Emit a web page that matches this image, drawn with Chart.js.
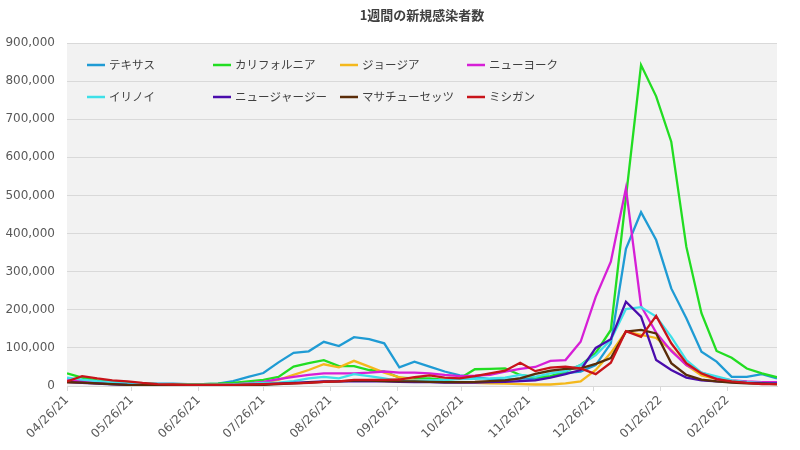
<!DOCTYPE html>
<html>
<head>
<meta charset="utf-8">
<script src="https://cdn.jsdelivr.net/npm/chart.js@4"></script>
<style>
  html, body { margin: 0; padding: 0; background: #ffffff; }
  #wrap { width: 800px; height: 450px; }
</style>
</head>
<body>
<div id="wrap"><canvas id="c" width="800" height="450"></canvas></div>
<script>
// ---- data ----
const chartTitle = '1週間の新規感染者数';
const weeks = ['04/26/21','05/03/21','05/10/21','05/17/21','05/24/21','05/31/21','06/07/21','06/14/21','06/21/21','06/28/21',
  '07/05/21','07/12/21','07/19/21','07/26/21','08/02/21','08/09/21','08/16/21','08/23/21','08/30/21','09/06/21',
  '09/13/21','09/20/21','09/27/21','10/04/21','10/11/21','10/18/21','10/25/21','11/01/21','11/08/21','11/15/21',
  '11/22/21','11/29/21','12/06/21','12/13/21','12/20/21','12/27/21','01/03/22','01/10/22','01/17/22','01/24/22',
  '01/31/22','02/07/22','02/14/22','02/21/22','02/28/22','03/07/22','03/14/22','03/21/22'];
const xTickLabels = ['04/26/21','05/26/21','06/26/21','07/26/21','08/26/21','09/26/21','10/26/21','11/26/21','12/26/21','01/26/22','02/26/22'];
const yTicks = [0,100000,200000,300000,400000,500000,600000,700000,800000,900000];
const seriesNames = ['テキサス','カリフォルニア','ジョージア','ニューヨーク','イリノイ','ニュージャージー','マサチューセッツ','ミシガン'];
const texas = [20,15,12,10,9,7,6,6,5,5, 6,13,24,34,62,87,91,116,105,128, 123,112,49,64,51,38,28,24,18,16, 20,18,23,34,38,55,112,360,456,383, 256,178,90,64,24,24,31,20];
const california = [33,22,15,10,8,6,5,5,5,5, 6,8,12,16,24,51,60,68,52,52, 42,38,22,20,20,16,20,44,45,46, 29,23,26,38,55,87,147,495,842,760, 641,365,191,92,74,46,33,23];
const georgia = [10,9,7,5,4,3,3,3,3,3, 3,4,6,10,16,29,42,57,49,66, 51,35,23,16,12,10,9,8,7,6, 5,4,4,7,12,42,87,143,134,126, 95,55,28,18,12,8,6,5];
const newYork = [15,12,9,6,4,3,3,3,3,3, 3,4,7,11,18,24,29,33,33,33, 35,38,35,35,33,29,26,27,29,38, 45,50,66,68,116,234,326,519,210,140, 92,55,35,22,15,12,10,10];
const illinois = [22,17,13,10,7,5,4,3,3,3, 3,4,6,8,9,13,20,24,20,31, 26,20,13,14,15,16,18,19,20,22, 29,24,33,39,55,81,121,202,207,182, 129,68,35,25,15,10,8,7];
const newJersey = [10,8,6,4,3,2,2,2,2,2, 2,2,3,4,6,8,10,12,12,13, 12,12,11,10,10,9,9,9,10,11, 13,15,22,31,42,100,123,221,182,68, 42,22,15,12,10,8,7,7];
const massachusetts = [10,9,7,5,3,2,2,1,1,1, 1,2,2,3,5,7,9,11,12,14, 14,13,12,12,11,10,10,11,13,15, 20,32,40,45,46,58,73,143,147,138, 60,29,17,12,9,7,6,5];
const michigan = [12,26,20,15,12,8,5,4,3,3, 3,3,4,5,6,7,8,11,12,16, 16,16,17,23,28,22,20,26,33,40, 61,39,48,51,46,31,61,144,129,184, 112,60,33,18,12,8,5,5];
const valueUnit = 1000; // values above are in thousands
const seriesColors = ['#1f9bd4','#22dd22','#f4b81c','#d61fd6','#3ee0e8','#4a0cac','#5a2c08','#c8141a'];

// ---- helpers ----
function dayOffset(s) {
  const [m, d, y] = s.split('/').map(Number);
  const base = Date.UTC(2021, 3, 26);
  return Math.round((Date.UTC(2000 + y, m - 1, d) - base) / 86400000);
}
const weekDays = weeks.map(dayOffset);
const xTickDays = xTickLabels.map(dayOffset);
const allSeries = [texas, california, georgia, newYork, illinois, newJersey, massachusetts, michigan];

const datasets = allSeries.map((vals, i) => ({
  label: seriesNames[i],
  data: vals.map((v, k) => ({ x: weekDays[k], y: v * valueUnit })),
  borderColor: seriesColors[i],
  backgroundColor: seriesColors[i],
  borderWidth: 2.3,
  pointRadius: 0,
  tension: 0,
  fill: false,
  order: allSeries.length - i
}));

const bgPlugin = {
  id: 'plotBg',
  beforeDraw(chart) {
    const { ctx, chartArea: a } = chart;
    ctx.save();
    ctx.fillStyle = '#f2f2f2';
    ctx.fillRect(a.left, a.top, a.right - a.left, a.bottom - a.top);
    ctx.restore();
  }
};

const legendPlugin = {
  id: 'gridLegend',
  afterDraw(chart) {
    const { ctx, chartArea: a } = chart;
    const colX = [20, 146, 273, 400];
    const rowY = [22, 54];
    ctx.save();
    ctx.font = '11.5px "Noto Sans CJK JP", "Noto Sans", sans-serif';
    ctx.textBaseline = 'middle';
    ctx.textAlign = 'left';
    chart.data.datasets.forEach((ds, i) => {
      const x = a.left + colX[i % 4];
      const y = a.top + rowY[Math.floor(i / 4)];
      ctx.strokeStyle = ds.borderColor;
      ctx.lineWidth = 2.5;
      ctx.beginPath();
      ctx.moveTo(x, y);
      ctx.lineTo(x + 18, y);
      ctx.stroke();
      ctx.fillStyle = '#404040';
      ctx.fillText(ds.label, x + 22, y);
    });
    ctx.restore();
  }
};

new Chart(document.getElementById('c'), {
  type: 'line',
  data: { datasets },
  plugins: [bgPlugin, legendPlugin],
  options: {
    responsive: false,
    animation: false,
    devicePixelRatio: 1,
    layout: { padding: { left: 0, right: 23, top: 0, bottom: 0 } },
    plugins: {
      legend: { display: false },
      tooltip: { enabled: false },
      title: {
        display: true,
        fullSize: false,
        text: chartTitle,
        color: '#404040',
        font: { family: '"Noto Sans CJK JP", sans-serif', size: 13, weight: 'bold' },
        padding: { top: 7, bottom: 20.4 }
      }
    },
    scales: {
      x: {
        type: 'linear',
        min: weekDays[0],
        max: weekDays[weekDays.length - 1],
        afterBuildTicks(scale) { scale.ticks = xTickDays.map(v => ({ value: v })); },
        afterFit(scale) { scale.height = 64; },
        grid: { drawOnChartArea: false, drawTicks: true, tickLength: 5, color: '#d9d9d9' },
        border: { display: true, color: '#d9d9d9' },
        ticks: {
          autoSkip: false,
          maxRotation: 45,
          minRotation: 45,
          padding: 2,
          color: '#595959',
          font: { family: '"DejaVu Sans", sans-serif', size: 12 },
          callback(value) {
            const i = xTickDays.indexOf(value);
            return i >= 0 ? xTickLabels[i] : '';
          }
        }
      },
      y: {
        min: 0,
        max: 900000,
        afterBuildTicks(scale) { scale.ticks = yTicks.map(v => ({ value: v })); },
        afterFit(scale) { scale.width = 67; },
        grid: { color: '#d9d9d9', drawTicks: false, lineWidth: 1 },
        border: { display: false },
        ticks: {
          padding: 12,
          color: '#595959',
          font: { family: '"DejaVu Sans", sans-serif', size: 12 },
          callback(value) { return value.toLocaleString('en-US'); }
        }
      }
    }
  }
});
</script>
</body>
</html>
